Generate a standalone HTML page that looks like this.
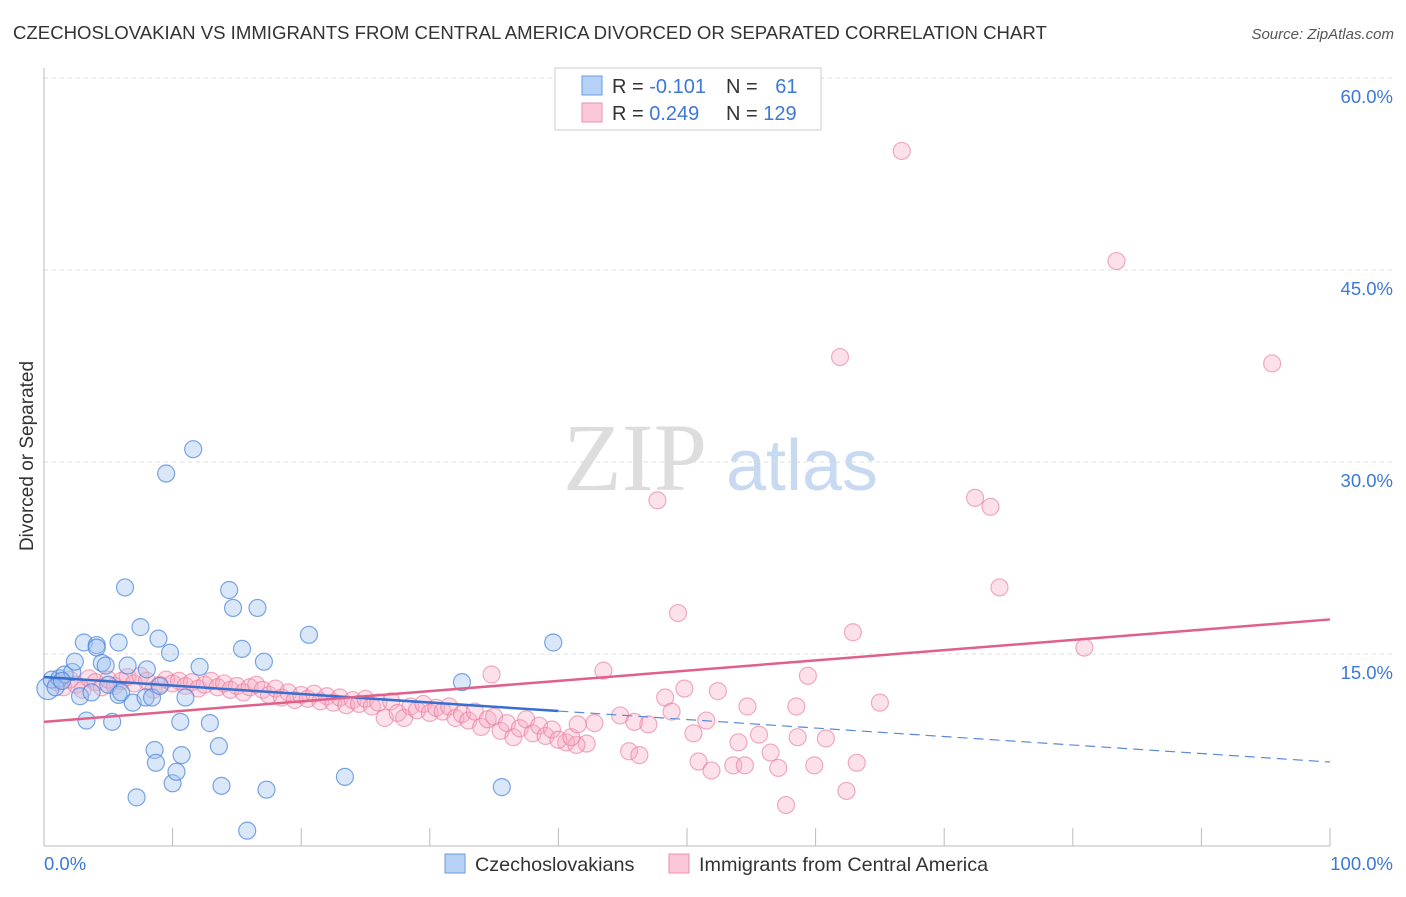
<!DOCTYPE html>
<html><head><meta charset="utf-8"><style>
body{margin:0;background:#fff;font-family:"Liberation Sans",sans-serif}
</style></head><body>
<svg width="1406" height="892" xmlns="http://www.w3.org/2000/svg" id="svg">
<text x="13" y="39" font-size="18.6" fill="#333">CZECHOSLOVAKIAN VS IMMIGRANTS FROM CENTRAL AMERICA DIVORCED OR SEPARATED CORRELATION CHART</text>
<text x="1394" y="39" font-size="15" fill="#555" font-style="italic" text-anchor="end">Source: ZipAtlas.com</text>
<text x="33" y="456" font-size="19" fill="#333" text-anchor="middle" transform="rotate(-90 33 456)">Divorced or Separated</text>
<g>
<text x="635" y="490" font-size="96" font-family="Liberation Serif,serif" fill="#ddd" text-anchor="middle">ZIP</text>
<text x="802" y="490" font-size="72" fill="#c8daf2" text-anchor="middle">atlas</text>
</g>
<g id="grid"></g>
<g id="axes"></g>
<g id="pink"></g>
<g id="blue"></g>
<g id="lines"></g>
<g>
<rect x="555" y="68" width="266" height="62" fill="#fff" stroke="#ccc"/>
<rect x="582" y="76" width="20" height="19" fill="#b5d1f5" stroke="#6a9be0"/>
<rect x="582" y="103" width="20" height="19" fill="#fac8d8" stroke="#ec90ad"/>
<text x="612" y="93" font-size="20" fill="#333">R = <tspan fill="#3b78d8">-0.101</tspan></text>
<text x="726" y="93" font-size="20" fill="#333">N = <tspan fill="#3b78d8" dx="12">61</tspan></text>
<text x="612" y="120" font-size="20" fill="#333">R = <tspan fill="#3b78d8">0.249</tspan></text>
<text x="726" y="120" font-size="20" fill="#333">N = <tspan fill="#3b78d8">129</tspan></text>
</g>
<g>
<rect x="445" y="854" width="20" height="19" fill="#b5d1f5" stroke="#6a9be0"/>
<text x="475" y="871" font-size="19.8" fill="#333">Czechoslovakians</text>
<rect x="669" y="854" width="20" height="19" fill="#fac8d8" stroke="#ec90ad"/>
<text x="699" y="871" font-size="19.8" fill="#333">Immigrants from Central America</text>
</g>
</svg>
<script>
const yTicks=[15,30,45,60];
const yTickLabels=["15.0%","30.0%","45.0%","60.0%"];
const xTicks=[10,20,30,40,50,60,70,80,90,100];
const blueX=[0.3,0.6,1.2,1.6,2.2,2.4,2.8,3.1,3.3,3.7,4.1,4.1,4.5,4.8,5.0,5.3,5.8,5.8,6.0,6.3,6.5,6.9,7.2,7.5,7.9,8.0,8.4,8.6,8.7,8.9,9.0,9.5,9.8,10.0,10.3,10.6,10.7,11.0,11.6,12.1,12.9,13.6,13.8,14.4,14.7,15.4,15.8,16.6,17.1,17.3,20.6,23.4,32.5,35.6,39.6,0.9,1.4];
const blueY=[12.3,13.0,13.1,13.4,13.6,14.4,11.7,15.9,9.8,12.0,15.7,15.5,14.3,14.1,12.6,9.7,15.9,11.8,12.0,20.2,14.1,11.2,3.8,17.1,11.6,13.8,11.6,7.5,6.5,16.2,12.5,29.1,15.1,4.9,5.8,9.7,7.1,11.6,31.0,14.0,9.6,7.8,4.7,20.0,18.6,15.4,1.2,18.6,14.4,4.4,16.5,5.4,12.8,4.6,15.9,12.4,12.9];
const pinkX=[66.7,83.4,61.9,95.5,47.7,72.4,73.6,74.3,49.3,62.9,80.9,43.5,34.8,59.4,49.8,52.4,48.3,65.0,54.7,58.5,48.8,51.5,42.8,45.9,47.0,44.8,42.2,50.5,54.0,55.6,58.6,60.8,45.5,46.3,50.9,51.9,53.6,54.5,56.5,57.1,59.9,63.2,62.4,57.7,40.6,41.4,
1,1.5,2,2.5,3,3.5,4,4.5,5,5.5,6,6.5,7,7.5,8,8.5,9,9.5,10,10.5,11,11.5,12,12.5,13,13.5,14,14.5,15,15.5,16,16.5,17,17.5,18,18.5,19,19.5,20,20.5,21,21.5,22,22.5,23,23.5,24,24.5,25,25.5,26,26.5,27,27.5,28,28.5,29,29.5,30,30.5,31,31.5,32,32.5,33,33.5,34,34.5,35,35.5,36,36.5,37,37.5,38,38.5,39,39.5,40,41,41.5];
const pinkY=[54.3,45.7,38.2,37.7,27.0,27.2,26.5,20.2,18.2,16.7,15.5,13.7,13.4,13.3,12.3,12.1,11.6,11.2,10.9,10.9,10.5,9.8,9.6,9.7,9.5,10.2,8.0,8.8,8.1,8.7,8.5,8.4,7.4,7.1,6.6,5.9,6.3,6.3,7.3,6.1,6.3,6.5,4.3,3.2,8.1,7.9,
12.8,12.4,13.0,12.6,12.2,13.1,12.8,12.4,13.0,12.5,12.9,13.2,12.7,13.3,12.9,12.2,12.6,13.0,12.7,12.9,12.5,12.8,12.3,12.6,12.9,12.4,12.7,12.2,12.5,12.0,12.4,12.6,12.2,11.8,12.3,11.6,12.0,11.4,11.8,11.5,11.9,11.3,11.7,11.2,11.6,11.0,11.4,11.1,11.5,10.9,11.2,10.0,11.3,10.4,10.0,10.9,10.6,11.1,10.4,10.8,10.5,10.9,10.0,10.3,9.8,10.5,9.3,9.9,10.1,9.0,9.6,8.5,9.2,9.9,8.8,9.4,8.6,9.1,8.3,8.5,9.5];
const blueTrend=[13.2,6.56], blueSolidEnd=40;
const pinkTrend=[9.7,17.7];
const NS="http://www.w3.org/2000/svg";
const X=v=>44+v*12.86, Y=v=>846-v*12.8;
function mk(t,p,a){const e=document.createElementNS(NS,t);for(const k in a)e.setAttribute(k,a[k]);p.appendChild(e);return e;}
const g=document.getElementById('grid'),ax=document.getElementById('axes');
yTicks.forEach((t,i)=>{
 const l=mk('line',g,{x1:44,x2:1392,y1:Y(t),y2:Y(t),stroke:'#ddd','stroke-dasharray':'4,4'});
 
 
 const tx=mk('text',ax,{x:1393,y:Y(t)+25,'font-size':18.5,fill:'#3b78d8','text-anchor':'end'});
 tx.textContent=yTickLabels[i];
 
 
});
mk('line',ax,{x1:44,x2:1330,y1:846,y2:846,stroke:'#bbb'});
mk('line',ax,{x1:44,x2:44,y1:68,y2:846,stroke:'#bbb'});
xTicks.forEach(t=>{const l=mk('line',ax,{x1:X(t),x2:X(t),y1:828,y2:846,stroke:'#bbb'});
 
 });
let t0=mk('text',ax,{x:44,y:870,'font-size':18.5,fill:'#3b78d8'});t0.textContent='0.0%';

let t1=mk('text',ax,{x:1393,y:870,'font-size':18.5,fill:'#3b78d8','text-anchor':'end'});t1.textContent='100.0%';

const pg=document.getElementById('pink');
pinkX.forEach((x,i)=>{const c=mk('circle',pg,{cx:X(x),cy:Y(pinkY[i]),r:8.5,fill:'rgba(246,170,195,0.35)',stroke:'rgba(232,120,155,0.6)','stroke-width':1.2});
 
 });
const bg=document.getElementById('blue');
blueX.forEach((x,i)=>{const c=mk('circle',bg,{cx:X(x),cy:Y(blueY[i]),r:i==0?11:8.5,fill:'rgba(160,195,240,0.4)',stroke:'rgba(70,130,220,0.7)','stroke-width':1.2});
 
 });
const lg=document.getElementById('lines');
const by=x=>blueTrend[0]+(blueTrend[1]-blueTrend[0])*x/100;
let bl=mk('line',lg,{x1:X(0),y1:Y(by(0)),x2:X(blueSolidEnd),y2:Y(by(blueSolidEnd)),stroke:'#3570d0','stroke-width':2.5});

let bd=mk('line',lg,{x1:X(blueSolidEnd),y1:Y(by(blueSolidEnd)),x2:X(100),y2:Y(by(100)),stroke:'#5a8ad8','stroke-width':1.2,'stroke-dasharray':'10,6'});

let pl=mk('line',lg,{x1:X(0),y1:Y(pinkTrend[0]),x2:X(100),y2:Y(pinkTrend[1]),stroke:'#e0608a','stroke-width':2.5});

</script>
</body></html>
